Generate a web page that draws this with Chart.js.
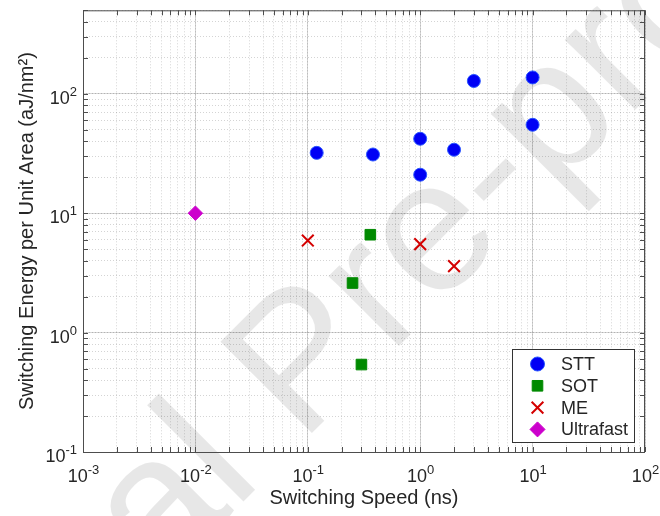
<!DOCTYPE html>
<html lang="en">
<head>
<meta charset="UTF-8">
<title>Switching Energy vs Switching Speed</title>
<script src="https://cdn.jsdelivr.net/npm/chart.js@4"></script>
<style>
  html, body { margin: 0; padding: 0; background: #fff; }
  #wrap { width: 660px; height: 516px; }
</style>
</head>
<body>
<div id="wrap"><canvas id="chart" width="660" height="516"></canvas></div>
<script>
// data (speed in ns, energy in aJ/nm^2)
const sttSpeed  = [0.12, 0.38, 1, 1, 2, 3, 10, 10];
const sttEnergy = [32, 31, 42, 21, 34, 128, 137, 55];
const sotSpeed  = [0.36, 0.25, 0.3];
const sotEnergy = [6.6, 2.6, 0.54];
const meSpeed   = [0.1, 1, 2];
const meEnergy  = [5.9, 5.5, 3.6];
const ufSpeed   = [0.01];
const ufEnergy  = [10];

// decade ticks, labelled 10^exp
const xTicks = [0.001, 0.01, 0.1, 1, 10, 100];
const xTickExp = ['-3', '-2', '-1', '0', '1', '2'];
const yTicks = [0.1, 1, 10, 100];
const yTickExp = ['-1', '0', '1', '2'];

const FONT = "'Liberation Sans', Arial, Helvetica, sans-serif";
const INK = '#262626';
Chart.defaults.font.family = FONT;
Chart.defaults.color = INK;

const pts = (xs, ys) => xs.map((x, i) => ({ x: x, y: ys[i] }));

// minor positions 1..9 x 10^n inside [min, max]
function minorTicks(min, max) {
  const out = [];
  for (let e = Math.floor(Math.log10(min)); e <= Math.ceil(Math.log10(max)); e++) {
    for (let m = 1; m <= 9; m++) {
      const v = m * Math.pow(10, e);
      if (v >= min * 0.999 && v <= max * 1.001) out.push(v);
    }
  }
  return out;
}

function noPad(s) { s.paddingTop = 0; s.paddingBottom = 0; s.paddingLeft = 0; s.paddingRight = 0; }

// "10" with a raised exponent; align = 'center' or 'right'
function powerLabel(ctx, exp, x, baseY, align) {
  ctx.font = "18px " + FONT;
  const w1 = ctx.measureText('10').width;
  ctx.font = "13px " + FONT;
  const w2 = ctx.measureText(exp).width;
  const x0 = align === 'right' ? x - w1 - w2 : x - (w1 + w2) / 2;
  ctx.font = "18px " + FONT;
  ctx.fillText('10', x0, baseY);
  ctx.font = "13px " + FONT;
  ctx.fillText(exp, x0 + w1, baseY - 8);
}

const frame = {
  id: 'frame',
  beforeDatasetsDraw(chart) {
    // "Journal Pre-proof" watermark
    const ctx = chart.ctx;
    const fs = 188;
    ctx.save();
    ctx.font = fs + "px " + FONT;
    ctx.fillStyle = 'rgba(0,0,0,0.095)';
    ctx.textBaseline = 'alphabetic';
    ctx.textAlign = 'left';
    const w = ctx.measureText('Journal ').width;
    ctx.translate(317.5, 427.5);
    ctx.rotate(-Math.PI / 4);
    ctx.fillText('Journal Pre-proof', -(w + 0.124 * fs), 0);
    ctx.restore();
  },
  afterDraw(chart) {
    const ctx = chart.ctx;
    const a = chart.chartArea;
    const xs = chart.scales.xMinor, ys = chart.scales.yMinor;
    ctx.save();
    ctx.strokeStyle = '#4d4d4d';
    ctx.lineWidth = 1;
    ctx.beginPath();
    xs.ticks.forEach(t => {
      const px = Math.round(xs.getPixelForValue(t.value)) + 0.5;
      ctx.moveTo(px, a.bottom); ctx.lineTo(px, a.bottom - 5);
      ctx.moveTo(px, a.top); ctx.lineTo(px, a.top + 5);
    });
    ys.ticks.forEach(t => {
      const py = Math.round(ys.getPixelForValue(t.value)) + 0.5;
      ctx.moveTo(a.left, py); ctx.lineTo(a.left + 5, py);
      ctx.moveTo(a.right, py); ctx.lineTo(a.right - 5, py);
    });
    ctx.stroke();
    ctx.strokeRect(a.left + 0.5, a.top + 0.5, a.right - a.left - 1, a.bottom - a.top);

    // decade labels
    ctx.fillStyle = INK;
    ctx.textBaseline = 'alphabetic';
    ctx.textAlign = 'left';
    const sx = chart.scales.x, sy = chart.scales.y;
    xTicks.forEach((v, i) => powerLabel(ctx, xTickExp[i], sx.getPixelForValue(v) + 0.5, a.bottom + 29.5, 'center'));
    yTicks.forEach((v, i) => powerLabel(ctx, yTickExp[i], a.left - 6, sy.getPixelForValue(v) + 10, 'right'));

    // legend box in the lower right corner
    const bx = 512.5, by = 349.5, bw = 122, bh = 93;
    ctx.fillStyle = '#fff';
    ctx.fillRect(bx, by, bw, bh);
    ctx.strokeStyle = '#333';
    ctx.strokeRect(bx, by, bw, bh);
    ctx.font = "18px " + FONT;
    ctx.textBaseline = 'middle';
    chart.data.datasets.forEach((ds, i) => {
      const cy = 364 + i * 21.8;
      ctx.fillStyle = ds.backgroundColor;
      ctx.strokeStyle = ds.borderColor;
      ctx.lineWidth = ds.borderWidth;
      Chart.helpers.drawPoint(ctx, {
        pointStyle: ds.pointStyle, radius: ds.legendRadius,
        rotation: 0, borderWidth: ds.borderWidth
      }, 537.5, cy);
      ctx.fillStyle = INK;
      ctx.fillText(ds.label, 561, cy + 1);
    });
    ctx.restore();
  }
};

new Chart(document.getElementById('chart'), {
  type: 'scatter',
  data: {
    datasets: [
      { label: 'STT', data: pts(sttSpeed, sttEnergy), pointStyle: 'circle',
        pointRadius: 6.5, legendRadius: 7, backgroundColor: '#0000f5', borderColor: '#2a55ff', borderWidth: 1 },
      { label: 'SOT', data: pts(sotSpeed, sotEnergy), pointStyle: 'rect',
        pointRadius: 7.5, legendRadius: 7.5, backgroundColor: '#008a00', borderColor: '#008a00', borderWidth: 1 },
      { label: 'ME', data: pts(meSpeed, meEnergy), pointStyle: 'crossRot',
        pointRadius: 8.3, legendRadius: 8.3, backgroundColor: '#d40000', borderColor: '#d40000', borderWidth: 2 },
      { label: 'Ultrafast', data: pts(ufSpeed, ufEnergy), pointStyle: 'rectRot',
        pointRadius: 7.2, legendRadius: 7.5, backgroundColor: '#cc00cc', borderColor: '#cc00cc', borderWidth: 1 }
    ]
  },
  options: {
    responsive: false,
    animation: false,
    events: [],
    layout: { padding: { top: 8, right: 15, left: 0, bottom: 0 } },
    plugins: { legend: { display: false }, tooltip: { enabled: false } },
    scales: {
      x: {
        type: 'logarithmic', position: 'bottom', min: 0.001, max: 100,
        afterBuildTicks: s => { s.ticks = xTicks.map(v => ({ value: v, major: true })); },
        ticks: { display: false },
        grid: { color: 'rgba(0,0,0,0.16)', lineWidth: 1, drawTicks: false },
        border: { display: false },
        title: { display: true, text: 'Switching Speed (ns)', font: { size: 20 }, color: INK,
                 padding: { top: 0, bottom: 6 } },
        afterFit: s => { s.height = 64; noPad(s); }
      },
      xMinor: {
        type: 'logarithmic', position: 'bottom', min: 0.001, max: 100,
        afterBuildTicks: s => { s.ticks = minorTicks(0.001, 100).map(v => ({ value: v })); },
        ticks: { display: false },
        grid: { color: 'rgba(0,0,0,0.17)', lineWidth: 1, drawTicks: false },
        border: { display: false, dash: [1, 2] },
        afterFit: s => { s.height = 0; noPad(s); }
      },
      y: {
        type: 'logarithmic', position: 'left', min: 0.1, max: 500,
        afterBuildTicks: s => { s.ticks = yTicks.map(v => ({ value: v, major: true })); },
        ticks: { display: false },
        grid: { color: 'rgba(0,0,0,0.16)', lineWidth: 1, drawTicks: false },
        border: { display: false },
        title: { display: true, text: 'Switching Energy per Unit Area (aJ/nm²)', font: { size: 20 },
                 color: INK, padding: { top: 15, bottom: 0 } },
        afterFit: s => { s.width = 83; noPad(s); }
      },
      yMinor: {
        type: 'logarithmic', position: 'left', min: 0.1, max: 500,
        afterBuildTicks: s => { s.ticks = minorTicks(0.1, 500).map(v => ({ value: v })); },
        ticks: { display: false },
        grid: { color: 'rgba(0,0,0,0.17)', lineWidth: 1, drawTicks: false },
        border: { display: false, dash: [1, 2] },
        afterFit: s => { s.width = 0; noPad(s); }
      }
    }
  },
  plugins: [frame]
});
</script>
</body>
</html>
